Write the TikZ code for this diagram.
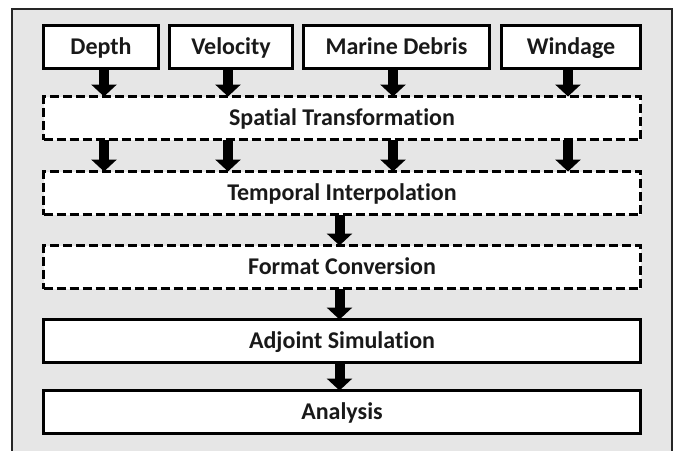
\documentclass[tikz,border=0pt]{standalone}
\usepackage{fontspec}
\setmainfont{Carlito}[Ligatures=NoCommon]
\usetikzlibrary{arrows.meta}
\definecolor{panelgray}{HTML}{E6E6E6}
\definecolor{framegray}{HTML}{262626}
\tikzset{
  box/.style={draw=black, line width=3pt, fill=white, outer sep=0pt, inner sep=0pt,
    minimum height=43pt, text height=15.5pt, text depth=0pt,
    font=\bfseries\fontsize{24}{28}\selectfont, text=black!90},
  dbox/.style={box, dash pattern=on 9pt off 4pt},
  flowarrow/.style={line width=10pt, line cap=butt,
    -{Triangle[width=25pt 0 0, length=12pt 0 0]}}
}
\begin{document}
\begin{tikzpicture}[x=1pt, y=-1pt]
  \useasboundingbox (0,0) rectangle (679,450);
  \begin{scope}
    \clip (0,0) rectangle (679,450);
    \fill[white] (0,0) rectangle (679,450);
    % grey panel behind the workflow
    \draw[framegray, line width=2pt, fill=panelgray] (12,9) rectangle (672,470);
  \end{scope}

  % input data sets
  \node[box, minimum width=115pt] (depth)    at (101,47)   {Depth};
  \node[box, minimum width=123pt] (velocity) at (231,47)   {Velocity};
  \node[box, minimum width=186pt] (debris)   at (396.5,47) {Marine Debris};
  \node[box, minimum width=139pt] (windage)  at (571,47)   {Windage};

  % processing steps
  \node[dbox, minimum width=597pt] (spatial)  at (342,118) {Spatial Transformation};
  \node[dbox, minimum width=597pt] (temporal) at (342,193) {Temporal Interpolation};
  \node[dbox, minimum width=597pt] (format)   at (342,267) {Format Conversion};
  \node[box,  minimum width=597pt] (adjoint)  at (342,341) {Adjoint Simulation};
  \node[box,  minimum width=597pt] (analysis) at (342,412) {Analysis};

  % arrows from the inputs into the spatial step, then on to the temporal step
  \foreach \src/\dx in {depth/3, velocity/-3, debris/-3.5, windage/-3} {
    \draw[flowarrow] ([xshift=\dx pt]\src.south) -- ([xshift=\dx pt]\src.south |- spatial.north);
    \draw[flowarrow] ([xshift=\dx pt]\src.south |- spatial.south) -- ([xshift=\dx pt]\src.south |- temporal.north);
  }

  % single chain through the remaining steps
  \draw[flowarrow] ([xshift=-2.5pt]temporal.south) -- ([xshift=-2.5pt]format.north);
  \draw[flowarrow] ([xshift=-2.5pt]format.south)   -- ([xshift=-2.5pt]adjoint.north);
  \draw[flowarrow] ([xshift=-2.5pt]adjoint.south)  -- ([xshift=-2.5pt]analysis.north);
\end{tikzpicture}
\end{document}
